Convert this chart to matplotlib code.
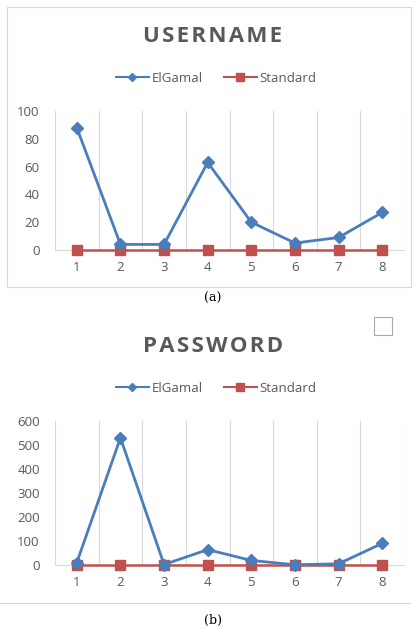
import matplotlib.pyplot as plt
from matplotlib.lines import Line2D
from matplotlib.patches import Rectangle

categories = [1, 2, 3, 4, 5, 6, 7, 8]
username_elgamal = [88, 4, 4, 63, 20, 5, 9, 27]
username_standard = [0, 0, 0, 0, 0, 0, 0, 0]
password_elgamal = [10, 530, 2, 64, 19, 1, 5, 90]
password_standard = [0, 0, 0, 0, 0, 0, 0, 0]
username_ticks = [0, 20, 40, 60, 80, 100]
password_ticks = [0, 100, 200, 300, 400, 500, 600]

BLUE = '#4a7ebb'
RED = '#c0504d'
GRAY = '#595959'
W, H = 418, 629

plt.rcParams['font.family'] = ['Open Sans', 'DejaVu Sans']
fig = plt.figure(figsize=(W / 100, H / 100), dpi=100)


def px(x, y):
    # pixel position (top-left origin) -> figure fraction
    return x / W, 1 - y / H


def panel(top, bottom, title, title_y, legend_y, elgamal, standard, ticks):
    l, b = px(55, bottom)
    _, t = px(55, top)
    ax = fig.add_axes([l, b, 349 / W, t - b])
    ax.patch.set_alpha(0)
    ax.plot(categories, elgamal, color=BLUE, lw=2, marker='D', ms=6,
            clip_on=False, zorder=4)
    ax.plot(categories, standard, color=RED, lw=1.8, marker='s', ms=7,
            clip_on=False, zorder=3)
    ax.set_xlim(0.5, 8.5)
    ax.set_ylim(ticks[0], ticks[-1])
    ax.set_yticks(ticks)
    ax.set_xticks(categories)
    ax.set_xticks([c + 0.5 for c in [0] + categories], minor=True)
    ax.grid(True, axis='x', which='minor', color='#d9d9d9', lw=0.8)
    ax.tick_params(which='both', length=0, colors=GRAY, labelsize=9.5)
    ax.tick_params(axis='x', pad=8)
    ax.tick_params(axis='y', pad=11)
    for s in ['top', 'right', 'left']:
        ax.spines[s].set_visible(False)
    ax.spines['bottom'].set_color('#d9d9d9')
    # slightly spaced-out title like the Excel chart
    fig.text(*px(213, title_y), '\u200a'.join(title),
             fontsize=16, fontweight='bold', color=GRAY, ha='center', va='center')
    handles = [Line2D([], [], color=BLUE, lw=1.5, marker='D', ms=4),
               Line2D([], [], color=RED, lw=1.5, marker='s', ms=6)]
    fig.legend(handles, ['ElGamal', 'Standard'], loc='center',
               bbox_to_anchor=px(216, legend_y), ncol=2, frameon=False,
               fontsize=9.5, labelcolor=GRAY, handlelength=2.5,
               handletextpad=0.2, columnspacing=1.6)
    return ax


panel(111, 250, 'USERNAME', 36, 78, username_elgamal, username_standard, username_ticks)
panel(421, 565, 'PASSWORD', 346, 388, password_elgamal, password_standard, password_ticks)

# outer frame of the first chart
x0, y0 = px(7, 287)
x1, y1 = px(411, 7)
fig.add_artist(Rectangle((x0, y0), x1 - x0, y1 - y0, transform=fig.transFigure,
                         fill=False, ec='#d9d9d9', lw=0.8))
# rule under the second chart and the small square
fig.add_artist(Line2D([0, 410 / W], [px(0, 603)[1]] * 2, transform=fig.transFigure,
                      color='#d9d9d9', lw=0.8))
sx, sy = px(374, 335)
fig.add_artist(Rectangle((sx, sy), 18 / W, 18 / H, transform=fig.transFigure,
                         fill=False, ec='#aaaaaa', lw=0.8))

fig.text(*px(213, 298), '(a)', fontsize=9, family='DejaVu Serif', ha='center', va='center')
fig.text(*px(213, 620), '(b)', fontsize=9, family='DejaVu Serif', ha='center', va='center')

fig.savefig('out.png', dpi=100, facecolor='white')
